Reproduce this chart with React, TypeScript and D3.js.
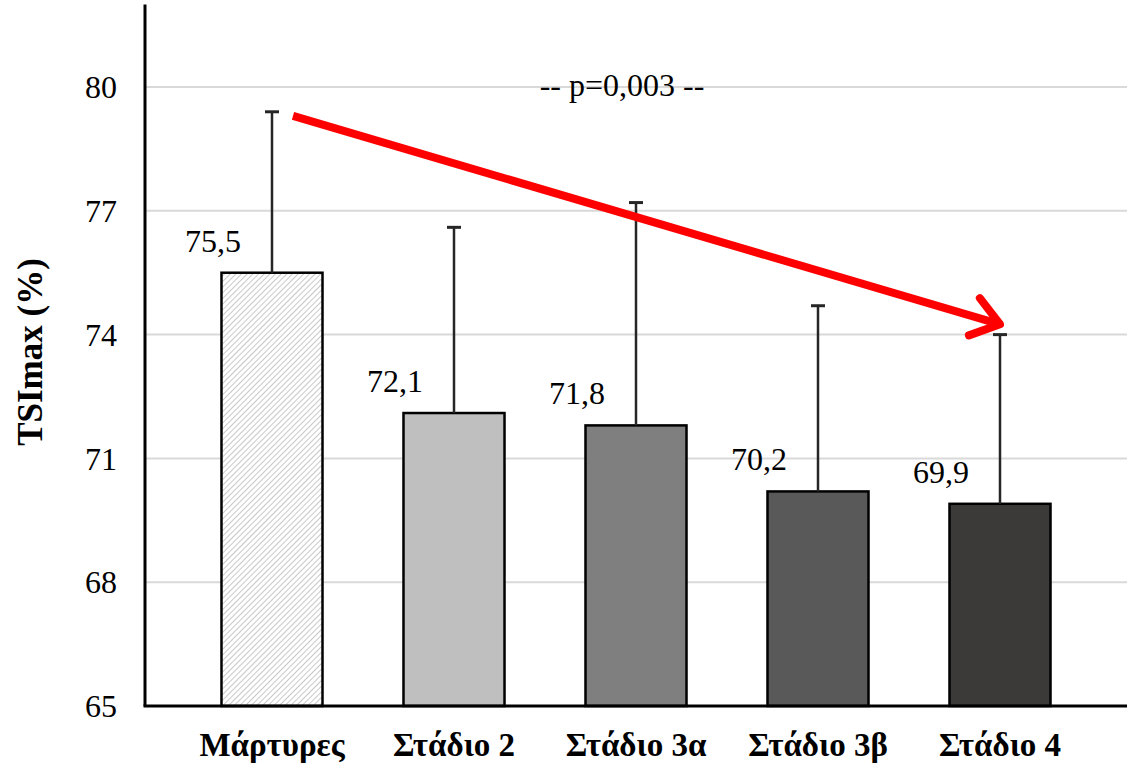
import React from "react";
import * as d3 from "d3";

const categories = ["Μάρτυρες", "Στάδιο 2", "Στάδιο 3α", "Στάδιο 3β", "Στάδιο 4"];
const means = [75.5, 72.1, 71.8, 70.2, 69.9];
const errorTops = [79.4, 76.6, 77.2, 74.7, 74.0];
const valueLabels = ["75,5", "72,1", "71,8", "70,2", "69,9"];
const yTicks = [65, 68, 71, 74, 77, 80];
const barFills = ["url(#hatch)", "#bfbfbf", "#7f7f7f", "#595959", "#3b3a39"];
const arrowStartValue = 79.3;
const arrowEndValue = 74.25;
const pLabel = "-- p=0,003 --";
const yTitle = "TSImax (%)";

const W = 1127;
const H = 770;
const axisX = 145;
const plotRight = 1127;

export default function App() {
  const y = d3.scaleLinear().domain([65, 82]).range([706, 4.5]);
  const x = d3
    .scaleBand<string>()
    .domain(categories)
    .range([181, 1091])
    .paddingInner(0.445)
    .paddingOuter(0.2225);
  const bw = x.bandwidth();
  const cx = (c: string) => (x(c) as number) + bw / 2;

  const ax1 = cx(categories[0]) + 21;
  const ay1 = y(arrowStartValue);
  const ax2 = cx(categories[4]);
  const ay2 = y(arrowEndValue);
  const ang = Math.atan2(ay2 - ay1, ax2 - ax1);
  const headLen = 33;
  const headAng = (36 * Math.PI) / 180;
  const w1 = [ax2 - headLen * Math.cos(ang - headAng), ay2 - headLen * Math.sin(ang - headAng)];
  const w2 = [ax2 - headLen * Math.cos(ang + headAng), ay2 - headLen * Math.sin(ang + headAng)];

  const serif = "'Liberation Serif', 'Times New Roman', serif";

  return (
    <svg
      width={W}
      height={H}
      style={{ position: "absolute", left: 0, top: 0, background: "#fff" }}
      fontFamily={serif}
    >
      <defs>
        <pattern id="hatch" patternUnits="userSpaceOnUse" width={4} height={4} patternTransform="rotate(45)">
          <rect width={4} height={4} fill="#ffffff" />
          <line x1={0} y1={0} x2={0} y2={4} stroke="#b0b0b0" strokeWidth={1.4} />
        </pattern>
      </defs>
      <rect width={W} height={H} fill="#fff" />

      {/* gridlines */}
      {yTicks.filter((t) => t > 65).map((t) => (
        <line key={t} x1={axisX} x2={plotRight} y1={y(t)} y2={y(t)} stroke="#d9d9d9" strokeWidth={2} />
      ))}

      {/* p label */}
      <text x={622} y={y(80) + 9} fontSize={32} textAnchor="middle" fill="#000">
        {pLabel}
      </text>

      {/* bars */}
      {categories.map((c, i) => (
        <rect
          key={c}
          x={x(c)}
          y={y(means[i])}
          width={bw}
          height={y(65) - y(means[i])}
          fill={barFills[i]}
          stroke="#000"
          strokeWidth={2.5}
        />
      ))}

      {/* error bars */}
      {categories.map((c, i) => (
        <g key={c} stroke="#262626">
          <line x1={cx(c)} x2={cx(c)} y1={y(means[i])} y2={y(errorTops[i])} strokeWidth={2.5} />
          <line x1={cx(c) - 7} x2={cx(c) + 7} y1={y(errorTops[i])} y2={y(errorTops[i])} strokeWidth={3} />
        </g>
      ))}

      {/* value labels */}
      {categories.map((c, i) => (
        <text key={c} x={cx(c) - 59} y={y(means[i]) - 21} fontSize={32} textAnchor="middle" fill="#000">
          {valueLabels[i]}
        </text>
      ))}

      {/* axes */}
      <line x1={axisX} x2={axisX} y1={y(82)} y2={y(65)} stroke="#000" strokeWidth={3} />
      <line x1={axisX - 1.5} x2={plotRight} y1={y(65)} y2={y(65)} stroke="#000" strokeWidth={3} />

      {yTicks.map((t) => (
        <text key={t} x={117} y={y(t)} dy="0.35em" fontSize={32} textAnchor="end" fill="#000">
          {t}
        </text>
      ))}

      {categories.map((c) => (
        <text key={c} x={cx(c)} y={756} fontSize={33} fontWeight="bold" textAnchor="middle" fill="#000">
          {c}
        </text>
      ))}

      <text
        transform={`translate(42, ${352}) rotate(-90)`}
        fontSize={35}
        fontWeight="bold"
        textAnchor="middle"
        fill="#000"
      >
        {yTitle}
      </text>

      {/* arrow */}
      <g stroke="#ff0000" strokeWidth={8} fill="none" strokeLinecap="round" strokeLinejoin="round">
        <line x1={ax1} y1={ay1} x2={ax2 - 6 * Math.cos(ang)} y2={ay2 - 6 * Math.sin(ang)} strokeLinecap="butt" />
        <polyline points={`${w1[0]},${w1[1]} ${ax2},${ay2} ${w2[0]},${w2[1]}`} />
      </g>
    </svg>
  );
}
